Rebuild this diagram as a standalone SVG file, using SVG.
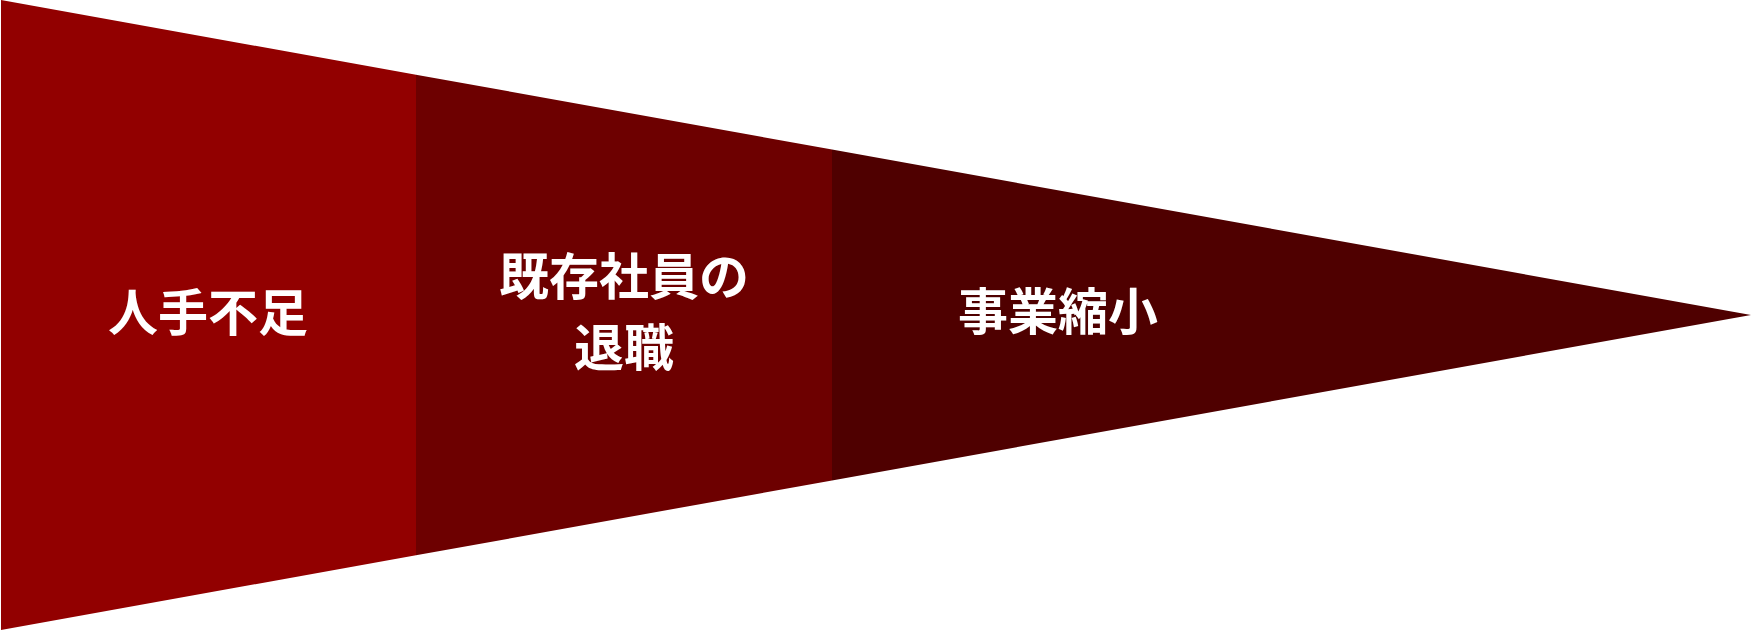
<svg xmlns="http://www.w3.org/2000/svg" width="1752" height="630" viewBox="0 0 1752 630">
  <style>
    .lbl { font-family: "Noto Sans CJK JP", "Noto Sans", sans-serif; font-size: 50px; font-weight: 700; fill: #ffffff; text-anchor: middle; dominant-baseline: central; }
  </style>
  <rect x="0" y="0" width="1752" height="630" fill="#ffffff"/>
  <g id="seg1">
    <polygon points="1,0 416,74.7 416,555.3 1,630" fill="#920000"/>
    <text class="lbl" x="208" y="309">人手不足</text>
  </g>
  <g id="seg2">
    <polygon points="416,74.7 832,149.6 832,480.4 416,555.3" fill="#6d0000"/>
    <text class="lbl" x="624" y="273">既存社員の</text>
    <text class="lbl" x="624" y="344">退職</text>
  </g>
  <g id="seg3">
    <polygon points="832,149.6 1751,315 832,480.4" fill="#4f0000"/>
    <text class="lbl" x="1058" y="308">事業縮小</text>
  </g>
</svg>
